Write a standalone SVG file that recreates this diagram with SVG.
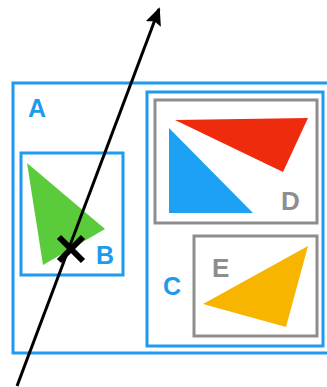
<svg xmlns="http://www.w3.org/2000/svg" width="327" height="387" viewBox="0 0 327 387">
<defs>
<style>
.blue{fill:none;stroke:#1E9BEF;stroke-width:3}
.gray{fill:none;stroke:#8E8E8E;stroke-width:3}
.lb{font-family:"Liberation Sans",Arial,sans-serif;font-weight:bold;font-size:25px;fill:#1E9BEF}
.lg{font-family:"Liberation Sans",Arial,sans-serif;font-weight:bold;font-size:26px;fill:#8E8E8E}
</style>
<marker id="ah" viewBox="0 0 18 16" refX="16" refY="8" markerWidth="18" markerHeight="16" orient="auto" markerUnits="userSpaceOnUse">
<path d="M0,0 L18,8 L0,16 L3,8 z" fill="#000"/>
</marker>
</defs>
<rect width="327" height="387" fill="#fff"/>
<g id="A">
<rect class="blue" x="13" y="83" width="318" height="270"/>
<text class="lb" x="28" y="117">A</text>
</g>
<g id="B">
<rect class="blue" x="21" y="153" width="102" height="122"/>
<polygon points="27,163 105,229 43,265" fill="#5ACB3A"/>
<text class="lb" x="96" y="264">B</text>
</g>
<g id="C">
<rect class="blue" x="147" y="92" width="176" height="254"/>
<text class="lb" x="163" y="295">C</text>
</g>
<g id="D">
<rect class="gray" x="155" y="100" width="162" height="123"/>
<polygon points="175,120 308,118 283,172" fill="#EE2B0C"/>
<polygon points="169,128 169,213 253,213" fill="#1DA1F5"/>
<text class="lg" x="281" y="210">D</text>
</g>
<g id="E">
<rect class="gray" x="194" y="236" width="123" height="100"/>
<polygon points="203,304 308,246 286,327" fill="#F7B500"/>
<text class="lg" x="212" y="277">E</text>
</g>
<g id="connectors">
<line x1="17" y1="386" x2="159" y2="9" stroke="#000" stroke-width="3" marker-end="url(#ah)"/>
<path d="M59,237 L83,261 M59,261 L83,237" stroke="#000" stroke-width="6" fill="none"/>
</g>
</svg>
